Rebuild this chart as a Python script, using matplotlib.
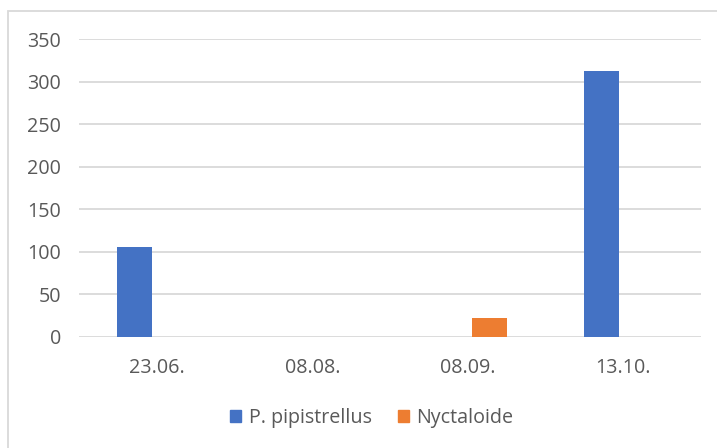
import numpy as np
import matplotlib.pyplot as plt
from matplotlib.patches import Patch, Rectangle

# Counts per survey date
dates = ['23.06.', '08.08.', '08.09.', '13.10.']
pipistrellus = [105, 0, 0, 313]
nyctaloide = [0, 0, 22, 0]

blue = '#4472c4'
orange = '#ed7d31'
grey_text = '#595959'
grid_col = '#d9d9d9'

plt.rcParams['font.family'] = ['Open Sans', 'DejaVu Sans']

fig = plt.figure(figsize=(7.17, 4.48), dpi=100)
W, H = 717, 448

# light frame around the chart area (right and bottom edges run off the image)
fig.patches.append(Rectangle((8 / W, -0.2), 1.2, 1.2 - 11 / H, transform=fig.transFigure,
                             fill=False, edgecolor='#d9d9d9', linewidth=1.3))

ax = fig.add_axes([79 / W, (H - 336.7) / H, (701 - 79) / W, (336.7 - 39.3) / H])

x = np.arange(len(dates))
w = 0.225
off = 0.142
ax.bar(x - off, pipistrellus, width=w, color=blue, label='P. pipistrellus', zorder=3)
ax.bar(x + off, nyctaloide, width=w, color=orange, label='Nyctaloide', zorder=3)

ax.set_xlim(-0.5, len(dates) - 0.5)
ax.set_ylim(0, 350)
ax.set_yticks(range(0, 351, 50))
ax.set_xticks(x)
ax.set_xticklabels(dates)
ax.yaxis.grid(True, color=grid_col, linewidth=1.3, zorder=0)
ax.tick_params(axis='both', length=0, labelsize=14.2, labelcolor=grey_text)
ax.tick_params(axis='x', pad=15)
ax.tick_params(axis='y', pad=13)
for s in ax.spines.values():
    s.set_visible(False)

handles = [Patch(color=blue, label='P. pipistrellus'),
           Patch(color=orange, label='Nyctaloide')]
fig.legend(handles=handles, loc='center', bbox_to_anchor=(372 / W, 1 - 418 / H),
           ncol=2, frameon=False, fontsize=14.2, labelcolor=grey_text,
           handlelength=0.55, handleheight=0.55, handletextpad=0.4, columnspacing=1.3)

fig.savefig('out.png', dpi=100)
